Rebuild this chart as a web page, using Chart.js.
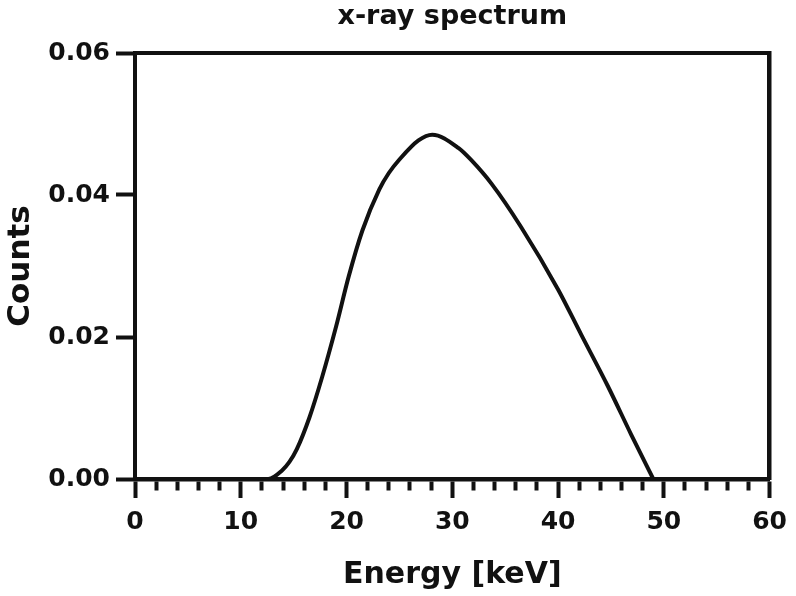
<!DOCTYPE html>
<html>
<head>
<meta charset="utf-8">
<script src="https://cdn.jsdelivr.net/npm/chart.js@4.4.1/dist/chart.umd.min.js"></script>
<style>
  html, body { margin: 0; padding: 0; background: #ffffff; }
  #c { display: block; }
</style>
</head>
<body>
<canvas id="c" width="796" height="596"></canvas>
<script>
// ---- data ----
const energy = [0, 12.6, 13.9, 14.6, 15.3, 16.5, 17.7, 19.0, 20.2, 21.5, 23.1, 24.0, 25.0, 26.8, 28.1, 30.6, 31.8, 33.7, 36.5, 40.0, 42.2, 44.7, 46.9, 49.0];
const counts = [0, 0, 0.0012, 0.0024, 0.0042, 0.0087, 0.0144, 0.0214, 0.0285, 0.0350, 0.0408, 0.0431, 0.0450, 0.0477, 0.0485, 0.0466, 0.0449, 0.0416, 0.0355, 0.0267, 0.0203, 0.0131, 0.0063, 0];
const titleText = 'x-ray spectrum';
const xTitle = 'Energy [keV]';
const yTitle = 'Counts';
const xRange = [0, 60];
const yRange = [0, 0.06];
const xMajorStep = 10;
const xMinorStep = 2;
const yStep = 0.02;

const points = energy.map((e, i) => ({ x: e, y: counts[i] }));
const INK = '#111111';
const FONT = "'DejaVu Sans', sans-serif";

new Chart(document.getElementById('c'), {
  type: 'line',
  data: {
    datasets: [{
      data: points,
      borderColor: INK,
      borderWidth: 4,
      pointRadius: 0,
      fill: false,
      cubicInterpolationMode: 'monotone'
    }]
  },
  options: {
    responsive: false,
    animation: false,
    layout: { padding: { left: 0, right: 24, top: 0, bottom: 0 } },
    plugins: {
      legend: { display: false },
      tooltip: { enabled: false },
      title: {
        display: true,
        fullSize: false,
        text: titleText,
        color: INK,
        font: { family: FONT, size: 27, weight: 'bold', lineHeight: 1 },
        padding: { top: 3, bottom: 23 }
      }
    },
    scales: {
      x: {
        type: 'linear',
        position: 'bottom',
        min: xRange[0], max: xRange[1],
        afterFit(s) { s.height = 117; },
        ticks: {
          stepSize: xMinorStep,
          autoSkip: false,
          maxRotation: 0,
          padding: 9,
          color: INK,
          font: { family: FONT, size: 25, weight: 'bold' },
          callback: (v) => (Math.round(v) % xMajorStep === 0 ? String(Math.round(v)) : '')
        },
        grid: {
          drawOnChartArea: false,
          drawTicks: true,
          tickLength: 19,
          tickWidth: 4,
          tickColor: INK,
          tickBorderDash: (ctx) => (ctx.tick && Math.round(ctx.tick.value) % xMajorStep === 0 ? [] : [9, 100])
        },
        border: { display: true, color: INK, width: 4.5 },
        title: {
          display: true,
          text: xTitle,
          color: INK,
          font: { family: FONT, size: 30, weight: 'bold', lineHeight: 1.2 },
          padding: { top: 0, bottom: 3 }
        }
      },
      x2: {
        type: 'linear',
        position: 'top',
        min: xRange[0], max: xRange[1],
        afterFit(s) { s.height = 0; },
        ticks: { display: false },
        grid: { display: true, drawOnChartArea: false, drawTicks: false },
        border: { display: true, color: INK, width: 4 }
      },
      y: {
        type: 'linear',
        position: 'left',
        min: yRange[0], max: yRange[1],
        afterFit(s) { s.width = 135; },
        ticks: {
          stepSize: yStep,
          padding: 6,
          color: INK,
          font: { family: FONT, size: 25, weight: 'bold' },
          callback: (v) => Number(v).toFixed(2)
        },
        grid: {
          drawOnChartArea: false,
          drawTicks: true,
          tickLength: 19,
          tickWidth: 4,
          tickColor: INK
        },
        border: { display: true, color: INK, width: 4 },
        title: {
          display: true,
          text: yTitle,
          color: INK,
          font: { family: FONT, size: 31, weight: 'bold', lineHeight: 1.2 },
          padding: { top: 2, bottom: 0 }
        }
      },
      y2: {
        type: 'linear',
        position: 'right',
        min: yRange[0], max: yRange[1],
        afterFit(s) { s.width = 0; },
        ticks: { display: false },
        grid: { display: true, drawOnChartArea: false, drawTicks: false },
        border: { display: true, color: INK, width: 4.5 }
      }
    }
  }
});
</script>
</body>
</html>
